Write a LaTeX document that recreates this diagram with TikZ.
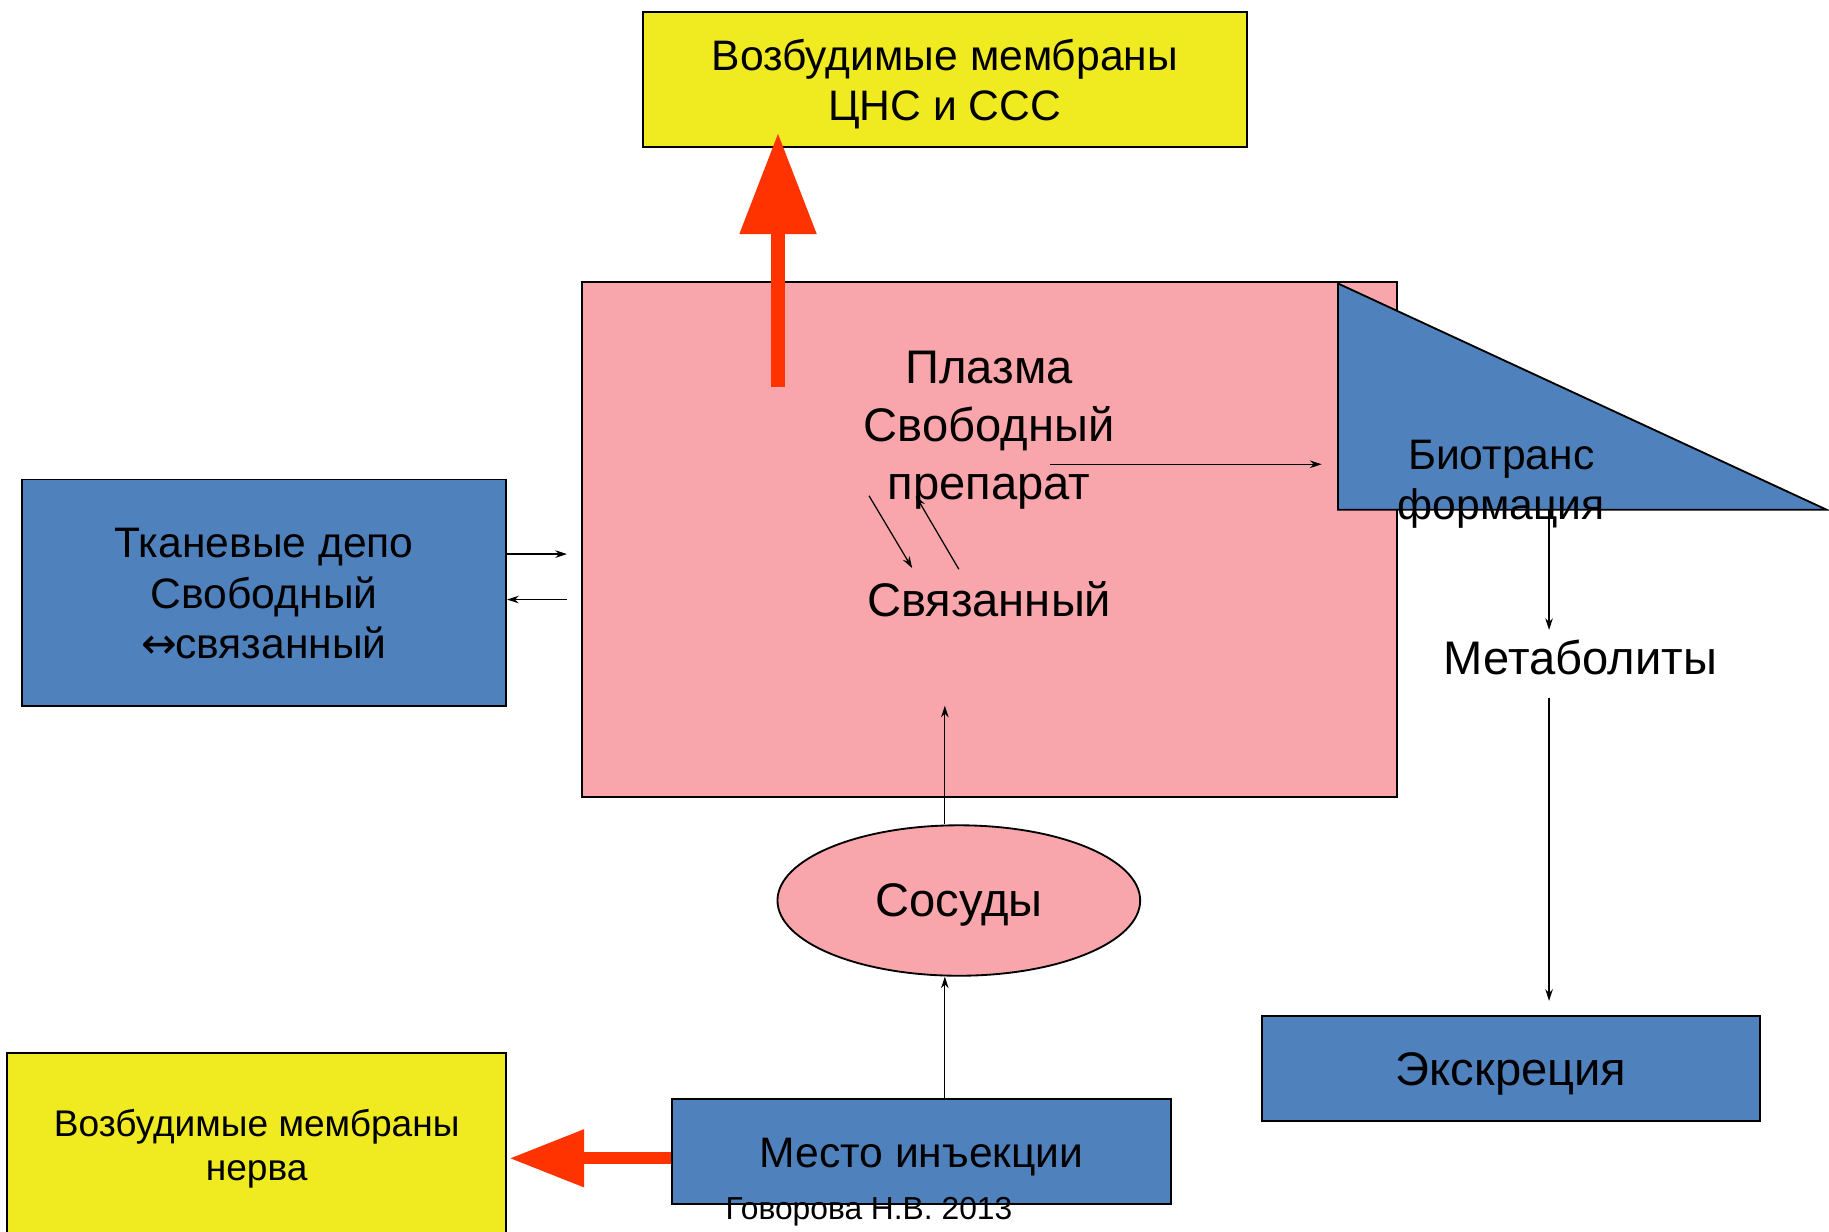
\documentclass[tikz,border=0pt]{standalone}
\usepackage{fontspec}
\setmainfont{Liberation Sans}
\newfontfamily\arrowfont{DejaVu Sans}
\usetikzlibrary{arrows.meta,shapes.geometric}
\definecolor{ylw}{RGB}{240,234,32}
\definecolor{pnk}{RGB}{248,166,172}
\definecolor{blu}{RGB}{79,129,189}
\definecolor{rd}{RGB}{255,51,0}
\newcommand{\fbig}{\fontsize{23}{28.4}\selectfont}
\newcommand{\finj}{\fontsize{20.8}{24.6}\selectfont}
\newcommand{\fmid}{\fontsize{20.8}{24.6}\selectfont}
\newcommand{\fsmall}{\fontsize{18.1}{21.6}\selectfont}
\newcommand{\ftiny}{\fontsize{15.5}{18}\selectfont}
\begin{document}
\begin{tikzpicture}[x=0.02cm,y=-0.02cm,
  box/.style={draw=black,line width=0.9pt,inner sep=0pt},
  txt/.style={inner sep=0pt,align=center},
  conn/.style={draw=black,line width=0.6pt,-{Stealth[length=0.2cm,width=0.13cm]}}]
\useasboundingbox (0,0) rectangle (1568,1056);
% boxes
\node[box,fill=ylw,minimum width=10.36cm,minimum height=2.32cm] (cns) at (810,68) {};
\node[box,fill=pnk,minimum width=13.98cm,minimum height=8.82cm] (plasma) at (848.5,462.5) {};
\node[box,fill=blu,minimum width=8.3cm,minimum height=3.88cm] (tkan) at (226.5,508) {};
\node[box,fill=blu,minimum width=8.54cm,minimum height=1.8cm] (excr) at (1295.5,916) {};
\node[box,fill=blu,minimum width=8.56cm,minimum height=1.8cm] (inj) at (790,987) {};
\node[box,fill=ylw,minimum width=8.56cm,minimum height=3.16cm] (nerve) at (220,982) {};
\node[box,ellipse,fill=pnk,minimum width=6.22cm,minimum height=2.58cm] (vess) at (822,772) {};
% triangle
\coordinate (t1) at (1147,243);
\coordinate (t2) at (1147,437);
\coordinate (t3) at (1566,437);
\draw[fill=blu,line width=0.9pt] (t1) -- (t2) -- (t3) -- cycle;
% box texts
\node[txt,font=\fmid] (cnsT) at (810,72) {Возбудимые мембраны\\ЦНС и ССС};
\node[txt,font=\fmid] (tkanT) at (226.5,509) {Тканевые депо\\Свободный\\{\arrowfont ↔}\kern-0.05em связанный};
\node[txt,font=\fbig] (excrT) at (1295.5,921) {Экскреция};
\node[txt,font=\finj] (injT) at (790,992) {Место инъекции};
\node[txt,font=\fsmall] (nerveT) at (220,985) {Возбудимые мембраны\\нерва};
\node[txt,font=\fbig] (vessT) at (822,776) {Сосуды};
% free texts
\node[txt,font=\fbig] (free) at (848,369) {Плазма\\Свободный\\препарат};
\node[txt,font=\fbig] (bound) at (848,514) {Связанный};
\node[txt,font=\fmid] (bio) at (1287,415) {Биотранс\\формация};
\node[txt,font=\fbig] (metab) at (1355,564) {Метаболиты};
\node[txt,font=\ftiny] (author) at (745,1039) {Говорова Н.В. 2013};
% red arrows
\coordinate (rs) at (667,332);
\draw[rd,line width=0.24cm,-{Triangle[length=1.74cm,width=1.26cm]}] (rs) -- ([yshift=0.26cm]cns.south -| rs);
\draw[rd,line width=0.2cm,-{Triangle[length=1.28cm,width=0.94cm]}] (inj.west |- 0,993) -- ([xshift=0.04cm]nerve.east |- 0,993);
% connectors
\coordinate (fb1) at (745,425); \coordinate (fb2) at (782,487);
\coordinate (bf1) at (822,488); \coordinate (bf2) at (785,425);
\draw[conn] (fb1) -- (fb2);
\draw[conn] (bf1) -- (bf2);
\coordinate (pb1) at (900,398); \coordinate (pb2) at (1133,398);
\draw[conn] (pb1) -- (pb2);
\coordinate (bm1) at (1328,437); \coordinate (bm2) at (1328,540);
\draw[conn] (bm1) -- (bm2);
\coordinate (me1) at (1328,598); \coordinate (me2) at (1328,858);
\draw[conn] (me1) -- (me2);
\coordinate (vp) at (810,605);
\draw[conn] (vess.north -| vp) -- (vp);
\draw[conn] (inj.north -| vp) -- (vess.south -| vp);
\coordinate (tp1) at (486,475); \coordinate (tp2) at (486,514);
\draw[conn] (tkan.east |- tp1) -- (tp1);
\draw[conn] (tp2) -- (tkan.east |- tp2);
\end{tikzpicture}
\end{document}
